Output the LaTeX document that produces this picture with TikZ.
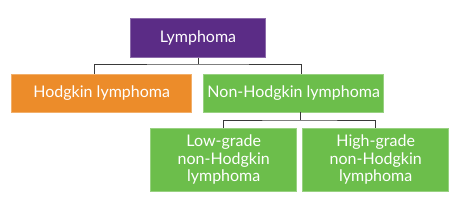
\documentclass[tikz,border=0pt]{standalone}
\usepackage{fontspec}
\setmainfont{Lato}
\definecolor{lpurple}{HTML}{5B2C86}
\definecolor{lorange}{HTML}{EC8C2A}
\definecolor{lgreen}{HTML}{6CBE4B}
\definecolor{lline}{HTML}{3A3A3A}
\begin{document}
\begin{tikzpicture}[x=1pt,y=-1pt,
  boxstyle/.style={draw=#1!70!white, fill=#1, line width=0.6pt, text=white, inner sep=0pt, align=center, font=\fontsize{16}{17.5}\selectfont},
  conn/.style={draw=lline, line width=0.9pt}]
\useasboundingbox (0,0) rectangle (461,209);
\node[boxstyle=lpurple, minimum width=135.5pt, minimum height=39.5pt] (lym) at (198,38) {Lymphoma};
\node[boxstyle=lorange, minimum width=180pt, minimum height=38pt] (hod) at (101.7,93) {Hodgkin lymphoma};
\node[boxstyle=lgreen, minimum width=180pt, minimum height=38pt] (non) at (293.7,93) {Non-Hodgkin lymphoma};
\node[boxstyle=lgreen, minimum width=146pt, minimum height=63pt] (low) at (223.7,159.5) {Low-grade\\non-Hodgkin\\lymphoma};
\node[boxstyle=lgreen, minimum width=146pt, minimum height=63pt] (high) at (375.7,159.5) {High-grade\\non-Hodgkin\\lymphoma};
\coordinate (j1) at (198,64);
\coordinate (j2) at (300,120);
\draw[conn] (lym.south) -- (j1);
\draw[conn] (hod.north -| 94,0) |- (j1) -| (non.north -| 301,0);
\draw[conn] (non.south -| 300,0) -- (j2);
\draw[conn] (low.north) |- (j2) -| (high.north);
\end{tikzpicture}
\end{document}
